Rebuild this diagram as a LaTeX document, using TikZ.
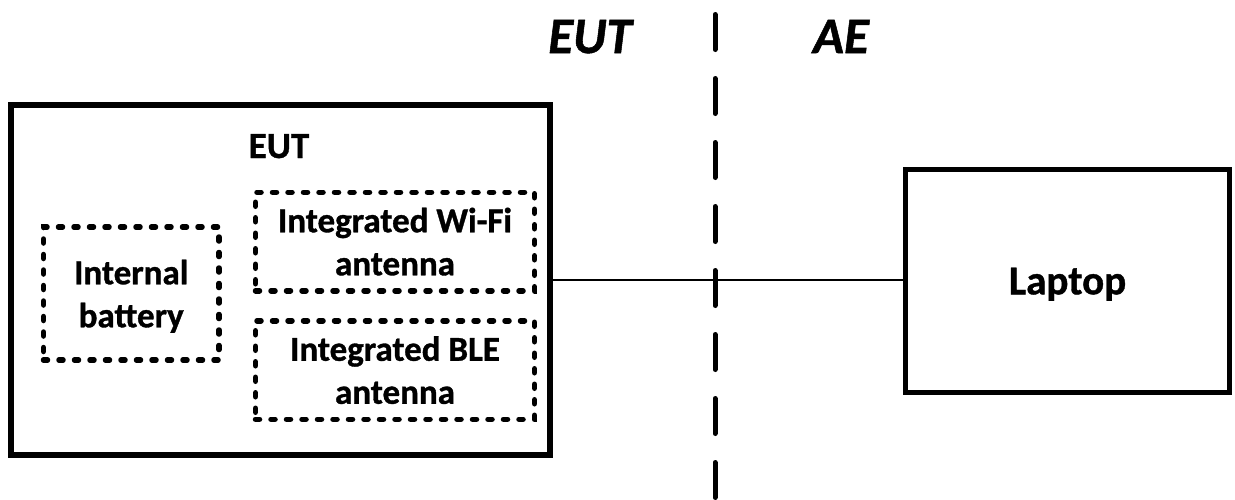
\documentclass[tikz,border=0pt]{standalone}
\usepackage{fontspec}
\setmainfont[FakeBold=1]{Carlito}
\usetikzlibrary{calc}
\usetikzlibrary{positioning}

\begin{document}
\begin{tikzpicture}[x=1pt,y=-1pt,
 solidbox/.style={draw=black,line width=#1,inner sep=0pt,outer sep=0pt},
 dotbox/.style={draw=black,line width=5.5pt,line cap=round,dash pattern=on 4pt off 11.5pt,
   inner sep=0pt,outer sep=0pt,align=center,text depth=0pt,
   font=\fontsize{35}{43}\selectfont\bfseries},
 sidelabel/.style={anchor=base,inner sep=0pt,font=\fontsize{51}{61}\selectfont\bfseries\itshape}]
\useasboundingbox (0,0) rectangle (1235,499);
% border between EUT and AE
\coordinate (divtop) at (715,14.5);
\coordinate (divbot) at (715,502);
\draw[black,line width=5pt,line cap=round,dash pattern=on 35pt off 29pt] (divtop)--(divbot);
\foreach \x/\txt in {590/EUT,841/AE}
 \node[sidelabel] (side\txt) at (\x,53) {\txt};
% EUT side
\node[solidbox=6pt,minimum width=539pt,minimum height=350pt] (eut) at (280.5,280) {};
\node[anchor=base,inner sep=0pt,font=\fontsize{37}{44}\selectfont\bfseries] (euttitle) at (279,158) {EUT};
\node[dotbox,minimum width=175.5pt,minimum height=133pt] (battery) at (131.25,293.5) {Internal\\battery};
\foreach \name/\y/\txt in {wifi/241.5/Wi-Fi,ble/370/BLE}
 \node[dotbox,minimum width=279pt,minimum height=98.5pt] (\name) at (395,\y) {Integrated \txt\\antenna};
% AE side
\node[solidbox=5pt,minimum width=324pt,minimum height=223pt,text depth=0pt,
  font=\fontsize{41}{49}\selectfont\bfseries] (laptop) at (1067.5,281) {Laptop};
\draw[black,line width=2pt] (eut.east)--(eut.east -| laptop.west);
\end{tikzpicture}
\end{document}
